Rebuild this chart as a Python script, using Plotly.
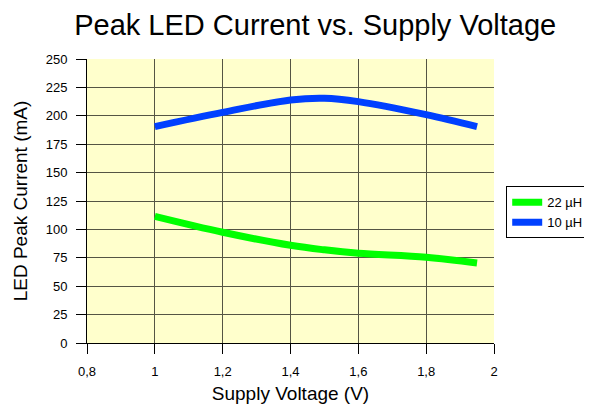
import plotly.graph_objects as go

voltage = [1.0, 1.2, 1.4, 1.5, 1.6, 1.8, 1.95]
current_10uH = [190.5, 203, 214, 215.5, 212.5, 201, 190.5]
current_22uH = [111.5, 97.5, 86, 82, 79, 75.5, 70.5]

fig = go.Figure()
fig.add_trace(go.Scatter(x=voltage, y=current_22uH, mode="lines", name="22 µH",
                         line=dict(color="#00FF00", width=7, shape="spline")))
fig.add_trace(go.Scatter(x=voltage, y=current_10uH, mode="lines", name="10 µH",
                         line=dict(color="#0040FF", width=7, shape="spline")))

font_family = "Liberation Sans, Arial, sans-serif"
fig.update_layout(
    width=584, height=397,
    margin=dict(l=79, r=98, t=51, b=62, autoexpand=False),
    paper_bgcolor="white",
    plot_bgcolor="#FFFFCC",
    separators=", ",
    font=dict(family=font_family, color="black", size=13),
    title=dict(text="Peak LED Current vs. Supply Voltage", x=0.526, xanchor="center",
               xref="container", y=0.957, yanchor="middle",
               font=dict(size=29, family=font_family)),
    showlegend=True,
    legend=dict(x=1.03, y=0.46, xanchor="left", yanchor="middle",
                bordercolor="black", borderwidth=1, bgcolor="white",
                font=dict(size=13), traceorder="normal", itemwidth=30,
                tracegroupgap=0),
    xaxis=dict(range=[0.8, 2.0], dtick=0.2, tick0=0.8, automargin=False,
               showgrid=True, gridcolor="#555544", gridwidth=1,
               showline=True, linecolor="black", linewidth=1,
               ticks="outside", ticklen=10, tickcolor="black",
               ticklabelstandoff=6,
               zeroline=False,
               title=dict(text="Supply Voltage (V)", font=dict(size=19), standoff=9)),
    yaxis=dict(range=[0, 250], dtick=25, automargin=False,
               showgrid=True, gridcolor="#555544", gridwidth=1,
               showline=True, linecolor="black", linewidth=1,
               ticks="outside", ticklen=10, tickcolor="black",
               ticklabelstandoff=6,
               zeroline=False,
               title=dict(text="LED Peak Current (mA)", font=dict(size=19), standoff=13)),
)
fig.write_html("out.html")
